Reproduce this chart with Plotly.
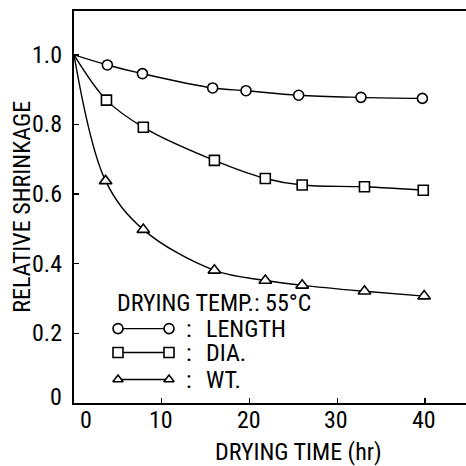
import plotly.graph_objects as go

# ---- data ----
length_t = [0, 3.8, 7.8, 15.8, 19.6, 25.6, 32.7, 39.7]
length_v = [1.0, 0.971, 0.946, 0.905, 0.897, 0.884, 0.878, 0.875]

dia_t = [0, 3.7, 7.9, 16.0, 21.8, 26.0, 33.1, 39.8]
dia_v = [1.0, 0.870, 0.792, 0.697, 0.645, 0.626, 0.621, 0.611]

wt_t = [0, 3.6, 7.9, 16.0, 21.8, 26.0, 33.1, 39.9]
wt_v = [1.0, 0.638, 0.498, 0.381, 0.352, 0.338, 0.321, 0.307]

series_names = ["LENGTH", "DIA.", "WT."]
series_symbols = ["circle", "square", "triangle-up"]

x_tick_vals = [0, 10, 20, 30, 40]
x_tick_labels = ["0", "10", "20", "30", "40"]
y_tick_vals = [0, 0.2, 0.4, 0.6, 0.8, 1.0]
y_tick_labels = ["0", "0.2", "0.4", "0.6", "0.8", "1.0"]

x_title = "DRYING TIME (hr)"
y_title = "RELATIVE SHRINKAGE"
legend_title = "DRYING TEMP.: 55°C"

FONT = "Roboto Condensed, DejaVu Sans Condensed, sans-serif"
FS = 24

W = H = 466
L, R, T, B = 74, 0, 11, 466 - 403.5
PW, PH = W - L - R, H - T - B


def px_x(p):
    return (p - L) / PW


def px_y(p):
    return (H - B - p) / PH


fig = go.Figure()

for t, v, sym, name in zip([length_t, dia_t, wt_t], [length_v, dia_v, wt_v],
                           series_symbols, series_names):
    fig.add_trace(go.Scatter(
        x=t, y=v, mode="lines", name=name, showlegend=False,
        line=dict(color="black", width=1.4, shape="spline", smoothing=1.0),
        hoverinfo="skip"))
    fig.add_trace(go.Scatter(
        x=t[1:], y=v[1:], mode="markers", showlegend=False,
        marker=dict(symbol=sym, size=11 if "triangle" in sym else 10,
                    color="white", line=dict(color="black", width=1.6))))

# ---- hand-drawn style legend (overlay axis in 0..1 plot-fraction units) ----
leg_x = [px_x(118), px_x(169)]
leg_y = [px_y(329), px_y(353), px_y(380)]
for yy, sym in zip(leg_y, series_symbols):
    fig.add_trace(go.Scatter(
        x=leg_x, y=[yy, yy], mode="lines+markers", xaxis="x2", yaxis="y2",
        showlegend=False, hoverinfo="skip",
        line=dict(color="black", width=1.4),
        marker=dict(symbol=sym, size=9 if "triangle" in sym else 10,
                    color="white", line=dict(color="black", width=1.6))))

annotations = []
txtfont = dict(family=FONT, size=FS, color="black")
for yy, name in zip(leg_y, series_names):
    annotations.append(dict(x=px_x(189), y=yy, xref="paper", yref="paper", text=":",
                            showarrow=False, xanchor="center", yanchor="middle",
                            font=txtfont))
    annotations.append(dict(x=px_x(204), y=yy, xref="paper", yref="paper", text=name,
                            showarrow=False, xanchor="left", yanchor="middle",
                            font=txtfont))
annotations.append(dict(x=px_x(115), y=px_y(303), xref="paper", yref="paper", text=legend_title,
                        showarrow=False, xanchor="left", yanchor="middle", font=txtfont))
# axis titles
annotations.append(dict(x=px_x(298), y=px_y(453), xref="paper", yref="paper", text=x_title,
                        showarrow=False, xanchor="center", yanchor="middle", font=txtfont))
annotations.append(dict(x=px_x(22), y=px_y(207), xref="paper", yref="paper", text=y_title,
                        showarrow=False, textangle=-90, xanchor="center", yanchor="middle",
                        font=txtfont))
# tick labels placed as text next to the axes (hand-lettered offsets as in the original)
for v, lab in zip(x_tick_vals, x_tick_labels):
    annotations.append(dict(x=v, y=0, xref="x", yref="paper", text=lab, showarrow=False,
                            xanchor="center", yanchor="middle",
                            xshift=12 if v == 0 else -1, yshift=-16.5, font=txtfont))
for v, lab in zip(y_tick_vals, y_tick_labels):
    annotations.append(dict(x=0, y=v, xref="paper", yref="y", text=lab, showarrow=False,
                            xanchor="right", yanchor="middle",
                            xshift=-10, yshift=6 if v == 0 else 0, font=txtfont))

fig.update_layout(
    width=W, height=H,
    margin=dict(l=L, r=R, t=T, b=B, pad=0, autoexpand=False),
    paper_bgcolor="white", plot_bgcolor="white",
    font=dict(family=FONT, size=FS, color="black"),
    xaxis=dict(range=[0, 44.67], tickvals=x_tick_vals, showticklabels=False,
               ticks="inside", ticklen=5, tickwidth=1.4, tickcolor="black",
               showline=True, linecolor="black", linewidth=1.6, mirror=True,
               showgrid=False, zeroline=False, automargin=False),
    yaxis=dict(range=[0, 1.126], tickvals=y_tick_vals, showticklabels=False,
               ticks="inside", ticklen=5, tickwidth=1.4, tickcolor="black",
               showline=True, linecolor="black", linewidth=1.6, mirror=False,
               showgrid=False, zeroline=False, automargin=False),
    xaxis2=dict(range=[0, 1], overlaying="x", visible=False, fixedrange=True),
    yaxis2=dict(range=[0, 1], overlaying="y", visible=False, fixedrange=True),
    annotations=annotations,
    showlegend=False,
)

fig.write_html("out.html", config={"displayModeBar": False, "staticPlot": True},
               post_script="document.body.style.margin='0';document.body.style.overflow='hidden';")
